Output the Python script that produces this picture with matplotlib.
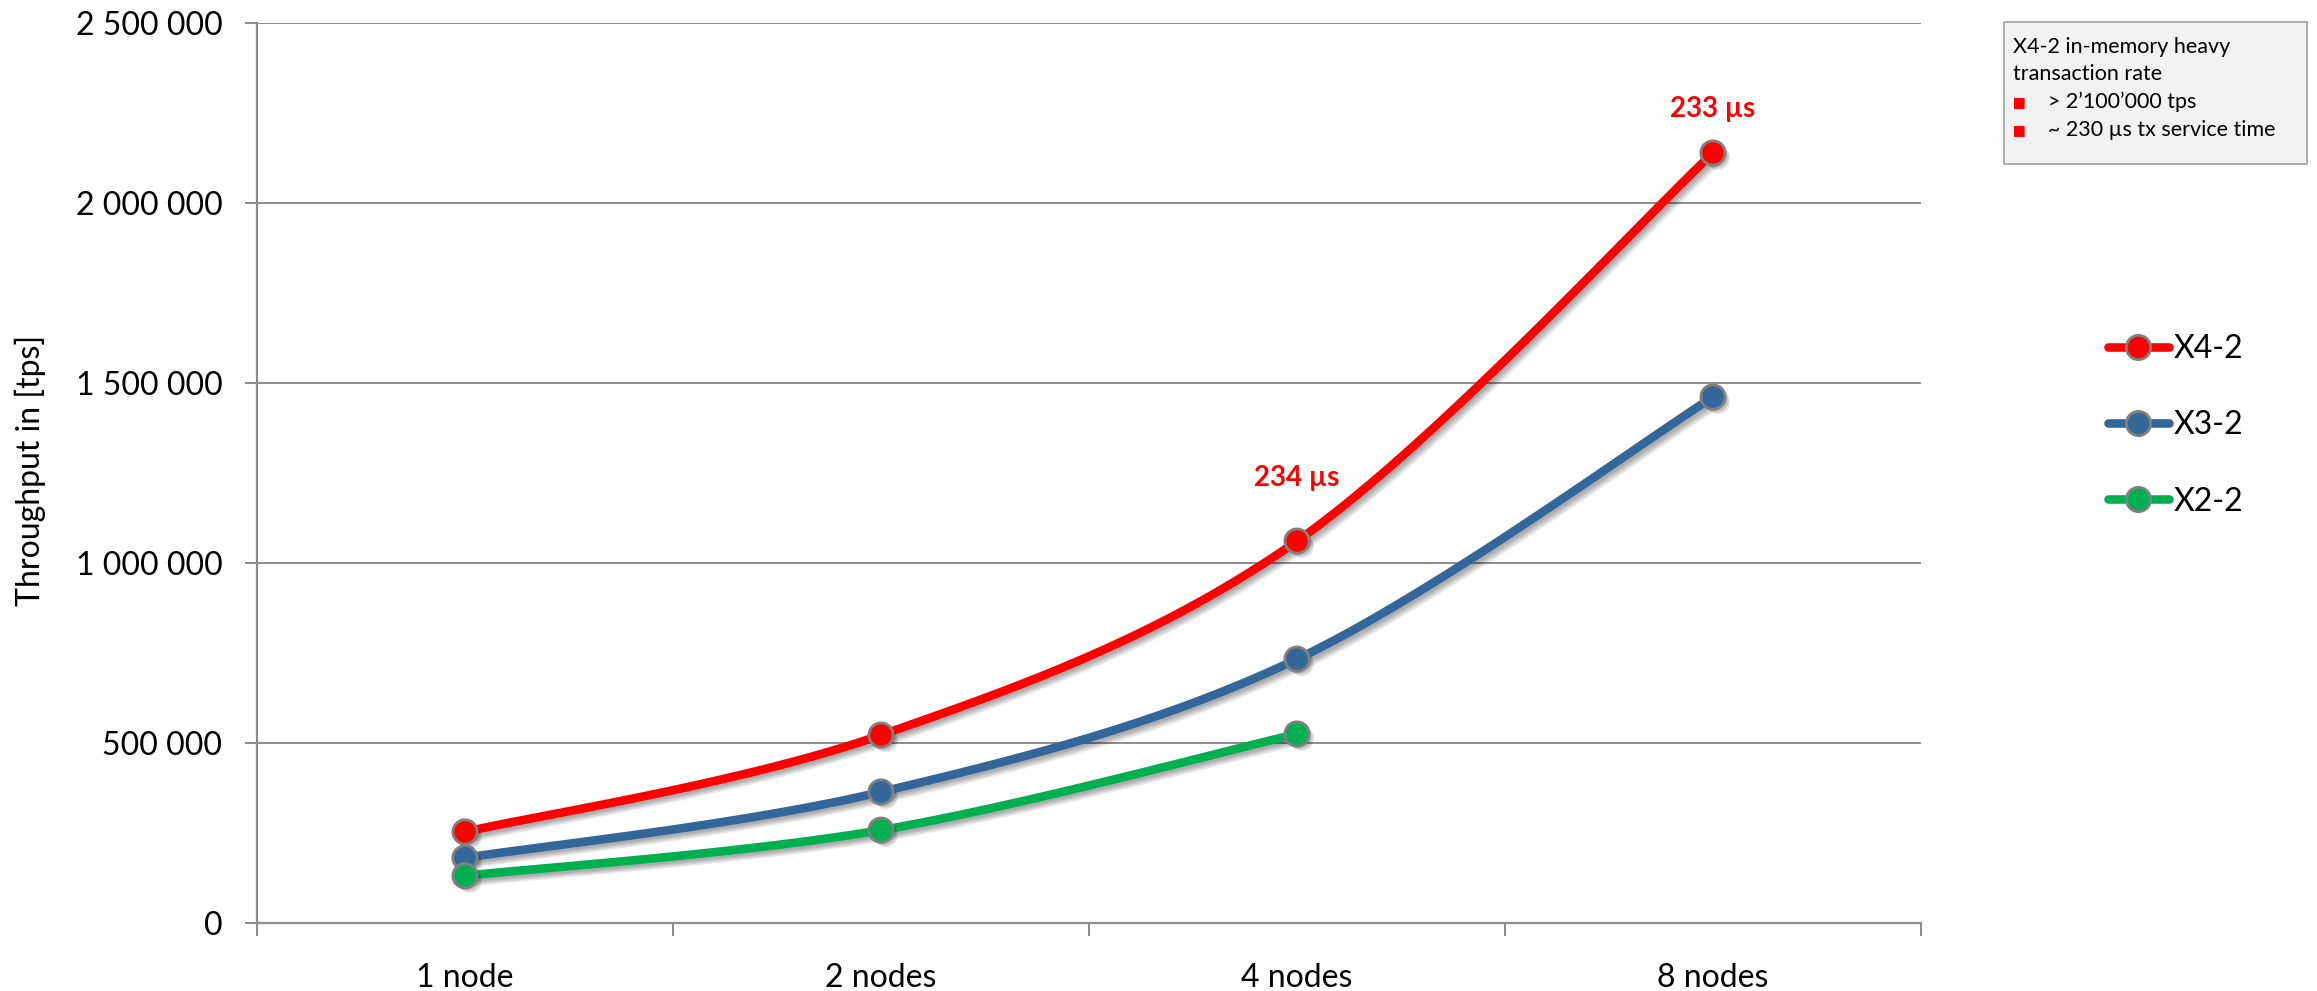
import numpy as np
import matplotlib
matplotlib.use("Agg")
import matplotlib.pyplot as plt
import matplotlib.patheffects as pe
from matplotlib.lines import Line2D
from matplotlib.patches import Rectangle
from matplotlib.ticker import FuncFormatter, MultipleLocator, FixedLocator

plt.rcParams['font.family'] = ['Lato', 'DejaVu Sans']

nodes = ["1 node", "2 nodes", "4 nodes", "8 nodes"]
x4_2 = [253000, 522000, 1061000, 2139000]
x3_2 = [181000, 364000, 733000, 1461000]
x2_2 = [131000, 258000, 525000]
series_names = ["X4-2", "X3-2", "X2-2"]
series_colors = ["#FF0000", "#336699", "#00B050"]
latency_labels = {2: "234 µs", 3: "233 µs"}   # index into x4_2
info_title = ["X4-2 in-memory heavy", "transaction rate"]
info_bullets = ["> 2\u2019100\u2019000 tps", "~ 230 µs tx service time"]

W, H = 2317, 991
fig = plt.figure(figsize=(W / 100, H / 100), dpi=100)
ax = fig.add_axes([257 / W, 1 - 923 / H, (1921 - 257) / W, (923 - 23) / H])


def smooth(ys, steps=40):
    # smoothed line through the points (cubic bezier, catmull-rom tangents)
    p = np.column_stack([np.arange(len(ys)), ys]).astype(float)
    ext = np.vstack([p[0], p, p[-1]])
    out = []
    for i in range(len(p) - 1):
        p0, p1, p2, p3 = ext[i], ext[i + 1], ext[i + 2], ext[i + 3]
        c1 = p1 + (p2 - p0) / 6
        c2 = p2 - (p3 - p1) / 6
        t = np.linspace(0, 1, steps)[:, None]
        seg = ((1 - t) ** 3 * p1 + 3 * (1 - t) ** 2 * t * c1
               + 3 * (1 - t) * t ** 2 * c2 + t ** 3 * p2)
        out.append(seg if i == 0 else seg[1:])
    return np.vstack(out)


line_shadow = [pe.SimpleLineShadow(offset=(d, -d), shadow_color='k', alpha=0.09)
               for d in (1.5, 2.5, 3.5, 4.5)] + [pe.Normal()]
dot_shadow = [pe.SimplePatchShadow(offset=(d, -d), shadow_rgbFace='k', alpha=0.1)
              for d in (1.5, 2.5, 3.5)] + [pe.Normal()]

for ys, name, col in zip([x4_2, x3_2, x2_2], series_names, series_colors):
    curve = smooth(ys)
    ax.plot(curve[:, 0], curve[:, 1], color=col, lw=6.2,
            solid_capstyle='round', path_effects=line_shadow, zorder=3)
    ax.plot(range(len(ys)), ys, ls='none', marker='o', ms=17.5,
            mfc=col, mec='#808080', mew=2, path_effects=dot_shadow, zorder=4)

label_offsets = {2: 36, 3: 22}
for i, txt in latency_labels.items():
    ax.annotate(txt, (i, x4_2[i]), xytext=(0, label_offsets[i]),
                textcoords='offset points', ha='center', va='bottom',
                color='#FF0000', fontsize=20, fontweight='bold')

ax.set_xlim(-0.5, 3.5)
ax.set_ylim(0, 2500000)
ax.yaxis.set_major_locator(MultipleLocator(500000))
ax.yaxis.set_major_formatter(FuncFormatter(lambda v, _: f"{int(v):,}".replace(",", " ")))
ax.set_xticks(range(len(nodes)))
ax.set_xticklabels(nodes)
ax.xaxis.set_minor_locator(FixedLocator(np.arange(-0.5, 3.6, 1.0)))

ax.grid(axis='y', color='#8C8C8C', lw=1.4, zorder=0)
ax.set_axisbelow(True)
for s in ('top', 'right'):
    ax.spines[s].set_visible(False)
for s in ('left', 'bottom'):
    ax.spines[s].set_color('#8C8C8C')
    ax.spines[s].set_linewidth(1.6)

ax.tick_params(axis='y', which='major', length=9, width=1.4, color='#8C8C8C',
               labelsize=23, pad=16)
ax.tick_params(axis='x', which='major', length=0, labelsize=23, pad=29)
ax.tick_params(axis='x', which='minor', length=9, width=1.4, color='#8C8C8C')

fig.text(30 / W, 1 - 470 / H, "Throughput in [tps]", rotation=90,
         ha='center', va='center', fontsize=23)

handles = [Line2D([], [], color=c, lw=6.2, solid_capstyle='round', marker='o',
                  ms=17.5, mfc=c, mec='#808080', mew=2) for c in series_colors]
fig.legend(handles, series_names, loc='upper left',
           bbox_to_anchor=(2092 / W, 1 - 318 / H), frameon=False, fontsize=23,
           handlelength=1.9, handletextpad=0.15, labelspacing=1.45, borderpad=0)

# info box, top right
fig.patches.append(Rectangle((2004 / W, 1 - 164 / H), (2307 - 2004) / W, (164 - 22) / H,
                             transform=fig.transFigure, facecolor='#F2F2F2',
                             edgecolor='#A0A0A0', lw=1.2))
for k, line in enumerate(info_title):
    fig.text(2013 / W, 1 - (47 + 27 * k) / H, line, fontsize=15.5,
             ha='left', va='center')
for k, line in enumerate(info_bullets):
    yy = 1 - (102 + 28 * k) / H
    fig.text(2018 / W, yy, "\u25aa", color='#FF0000', fontsize=15.5,
             ha='center', va='center', family=['DejaVu Sans'])
    fig.text(2048 / W, yy, line, fontsize=15.5, ha='left', va='center')

fig.savefig("out.png", dpi=100)
